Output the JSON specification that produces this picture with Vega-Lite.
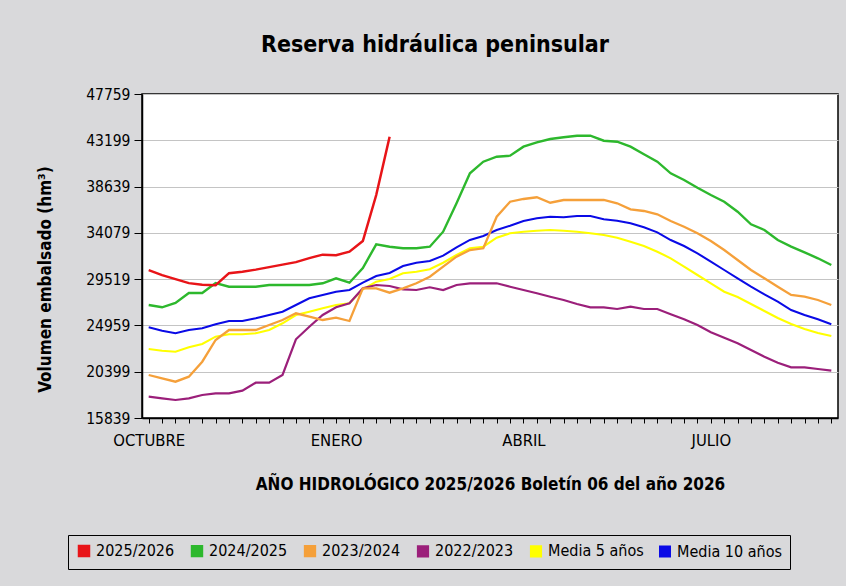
{
 "$schema": "https://vega.github.io/schema/vega-lite/v6.json",
 "width": 696,
 "height": 324,
 "autosize": {"type": "none"},
 "padding": {"left": 142, "top": 94, "right": 8, "bottom": 168},
 "background": "#d9d9db",
 "config": {"font": "DejaVu Sans Condensed", "view": {"fill": "white", "stroke": "black", "strokeWidth": 1.5}},
 "title": {"text": "Reserva hidráulica peninsular", "fontSize": 23, "fontWeight": "bold", "color": "black", "anchor": "middle", "dx": -55, "offset": 30},
 "data": {"values": [
{"s":"Media 10 años","w":0,"v":24775},{"s":"Media 10 años","w":1,"v":24440},{"s":"Media 10 años","w":2,"v":24184},{"s":"Media 10 años","w":3,"v":24509},{"s":"Media 10 años","w":4,"v":24676},{"s":"Media 10 años","w":5,"v":25070},{"s":"Media 10 años","w":6,"v":25395},{"s":"Media 10 años","w":7,"v":25395},{"s":"Media 10 años","w":8,"v":25661},{"s":"Media 10 años","w":9,"v":25987},
{"s":"Media 10 años","w":10,"v":26312},{"s":"Media 10 años","w":11,"v":26972},{"s":"Media 10 años","w":12,"v":27632},{"s":"Media 10 años","w":13,"v":27957},{"s":"Media 10 años","w":14,"v":28282},{"s":"Media 10 años","w":15,"v":28450},{"s":"Media 10 años","w":16,"v":29169},{"s":"Media 10 años","w":17,"v":29829},{"s":"Media 10 años","w":18,"v":30124},{"s":"Media 10 años","w":19,"v":30814},
{"s":"Media 10 años","w":20,"v":31139},{"s":"Media 10 años","w":21,"v":31307},{"s":"Media 10 años","w":22,"v":31829},{"s":"Media 10 años","w":23,"v":32656},{"s":"Media 10 años","w":24,"v":33376},{"s":"Media 10 años","w":25,"v":33770},{"s":"Media 10 años","w":26,"v":34361},{"s":"Media 10 años","w":27,"v":34784},{"s":"Media 10 años","w":28,"v":35247},{"s":"Media 10 años","w":29,"v":35513},
{"s":"Media 10 años","w":30,"v":35671},{"s":"Media 10 años","w":31,"v":35612},{"s":"Media 10 años","w":32,"v":35740},{"s":"Media 10 años","w":33,"v":35740},{"s":"Media 10 años","w":34,"v":35415},{"s":"Media 10 años","w":35,"v":35277},{"s":"Media 10 años","w":36,"v":35021},{"s":"Media 10 años","w":37,"v":34627},{"s":"Media 10 años","w":38,"v":34134},{"s":"Media 10 años","w":39,"v":33376},
{"s":"Media 10 años","w":40,"v":32784},{"s":"Media 10 años","w":41,"v":32065},{"s":"Media 10 años","w":42,"v":31238},{"s":"Media 10 años","w":43,"v":30420},{"s":"Media 10 años","w":44,"v":29602},{"s":"Media 10 años","w":45,"v":28775},{"s":"Media 10 años","w":46,"v":28026},{"s":"Media 10 años","w":47,"v":27297},{"s":"Media 10 años","w":48,"v":26479},{"s":"Media 10 años","w":49,"v":25987},
{"s":"Media 10 años","w":50,"v":25563},{"s":"Media 10 años","w":51,"v":25070},
{"s":"Media 5 años","w":0,"v":22637},{"s":"Media 5 años","w":1,"v":22469},{"s":"Media 5 años","w":2,"v":22371},{"s":"Media 5 años","w":3,"v":22804},{"s":"Media 5 años","w":4,"v":23129},{"s":"Media 5 años","w":5,"v":23849},{"s":"Media 5 años","w":6,"v":24085},{"s":"Media 5 años","w":7,"v":24085},{"s":"Media 5 años","w":8,"v":24184},{"s":"Media 5 años","w":9,"v":24509},
{"s":"Media 5 años","w":10,"v":25169},{"s":"Media 5 años","w":11,"v":25987},{"s":"Media 5 años","w":12,"v":26312},{"s":"Media 5 años","w":13,"v":26647},{"s":"Media 5 años","w":14,"v":26972},{"s":"Media 5 años","w":15,"v":27139},{"s":"Media 5 años","w":16,"v":28519},{"s":"Media 5 años","w":17,"v":29267},{"s":"Media 5 años","w":18,"v":29533},{"s":"Media 5 años","w":19,"v":30095},
{"s":"Media 5 años","w":20,"v":30252},{"s":"Media 5 años","w":21,"v":30489},{"s":"Media 5 años","w":22,"v":31139},{"s":"Media 5 años","w":23,"v":31898},{"s":"Media 5 años","w":24,"v":32558},{"s":"Media 5 años","w":25,"v":32716},{"s":"Media 5 años","w":26,"v":33602},{"s":"Media 5 años","w":27,"v":34036},{"s":"Media 5 años","w":28,"v":34193},{"s":"Media 5 años","w":29,"v":34292},
{"s":"Media 5 años","w":30,"v":34361},{"s":"Media 5 años","w":31,"v":34292},{"s":"Media 5 años","w":32,"v":34193},{"s":"Media 5 años","w":33,"v":34036},{"s":"Media 5 años","w":34,"v":33868},{"s":"Media 5 años","w":35,"v":33602},{"s":"Media 5 años","w":36,"v":33208},{"s":"Media 5 años","w":37,"v":32784},{"s":"Media 5 años","w":38,"v":32223},{"s":"Media 5 años","w":39,"v":31573},
{"s":"Media 5 años","w":40,"v":30745},{"s":"Media 5 años","w":41,"v":29927},{"s":"Media 5 años","w":42,"v":29110},{"s":"Media 5 años","w":43,"v":28282},{"s":"Media 5 años","w":44,"v":27760},{"s":"Media 5 años","w":45,"v":27070},{"s":"Media 5 años","w":46,"v":26381},{"s":"Media 5 años","w":47,"v":25691},{"s":"Media 5 años","w":48,"v":25100},{"s":"Media 5 años","w":49,"v":24607},
{"s":"Media 5 años","w":50,"v":24213},{"s":"Media 5 años","w":51,"v":23918},
{"s":"2022/2023","w":0,"v":17937},{"s":"2022/2023","w":1,"v":17780},{"s":"2022/2023","w":2,"v":17612},{"s":"2022/2023","w":3,"v":17780},{"s":"2022/2023","w":4,"v":18105},{"s":"2022/2023","w":5,"v":18272},{"s":"2022/2023","w":6,"v":18272},{"s":"2022/2023","w":7,"v":18529},{"s":"2022/2023","w":8,"v":19317},{"s":"2022/2023","w":9,"v":19317},
{"s":"2022/2023","w":10,"v":20075},{"s":"2022/2023","w":11,"v":23593},{"s":"2022/2023","w":12,"v":24834},{"s":"2022/2023","w":13,"v":25987},{"s":"2022/2023","w":14,"v":26745},{"s":"2022/2023","w":15,"v":27139},{"s":"2022/2023","w":16,"v":28617},{"s":"2022/2023","w":17,"v":28942},{"s":"2022/2023","w":18,"v":28844},{"s":"2022/2023","w":19,"v":28519},
{"s":"2022/2023","w":20,"v":28450},{"s":"2022/2023","w":21,"v":28716},{"s":"2022/2023","w":22,"v":28450},{"s":"2022/2023","w":23,"v":28942},{"s":"2022/2023","w":24,"v":29110},{"s":"2022/2023","w":25,"v":29110},{"s":"2022/2023","w":26,"v":29110},{"s":"2022/2023","w":27,"v":28775},{"s":"2022/2023","w":28,"v":28450},{"s":"2022/2023","w":29,"v":28124},
{"s":"2022/2023","w":30,"v":27789},{"s":"2022/2023","w":31,"v":27464},{"s":"2022/2023","w":32,"v":27070},{"s":"2022/2023","w":33,"v":26745},{"s":"2022/2023","w":34,"v":26745},{"s":"2022/2023","w":35,"v":26578},{"s":"2022/2023","w":36,"v":26804},{"s":"2022/2023","w":37,"v":26578},{"s":"2022/2023","w":38,"v":26578},{"s":"2022/2023","w":39,"v":26056},
{"s":"2022/2023","w":40,"v":25563},{"s":"2022/2023","w":41,"v":25001},{"s":"2022/2023","w":42,"v":24282},{"s":"2022/2023","w":43,"v":23750},{"s":"2022/2023","w":44,"v":23198},{"s":"2022/2023","w":45,"v":22538},{"s":"2022/2023","w":46,"v":21878},{"s":"2022/2023","w":47,"v":21287},{"s":"2022/2023","w":48,"v":20834},{"s":"2022/2023","w":49,"v":20834},
{"s":"2022/2023","w":50,"v":20666},{"s":"2022/2023","w":51,"v":20499},
{"s":"2023/2024","w":0,"v":20075},{"s":"2023/2024","w":1,"v":19750},{"s":"2023/2024","w":2,"v":19415},{"s":"2023/2024","w":3,"v":19908},{"s":"2023/2024","w":4,"v":21386},{"s":"2023/2024","w":5,"v":23524},{"s":"2023/2024","w":6,"v":24509},{"s":"2023/2024","w":7,"v":24509},{"s":"2023/2024","w":8,"v":24509},{"s":"2023/2024","w":9,"v":25001},
{"s":"2023/2024","w":10,"v":25494},{"s":"2023/2024","w":11,"v":26154},{"s":"2023/2024","w":12,"v":25819},{"s":"2023/2024","w":13,"v":25494},{"s":"2023/2024","w":14,"v":25721},{"s":"2023/2024","w":15,"v":25395},{"s":"2023/2024","w":16,"v":28617},{"s":"2023/2024","w":17,"v":28617},{"s":"2023/2024","w":18,"v":28184},{"s":"2023/2024","w":19,"v":28617},
{"s":"2023/2024","w":20,"v":29110},{"s":"2023/2024","w":21,"v":29760},{"s":"2023/2024","w":22,"v":30745},{"s":"2023/2024","w":23,"v":31730},{"s":"2023/2024","w":24,"v":32390},{"s":"2023/2024","w":25,"v":32558},{"s":"2023/2024","w":26,"v":35671},{"s":"2023/2024","w":27,"v":37149},{"s":"2023/2024","w":28,"v":37415},{"s":"2023/2024","w":29,"v":37582},
{"s":"2023/2024","w":30,"v":37050},{"s":"2023/2024","w":31,"v":37316},{"s":"2023/2024","w":32,"v":37316},{"s":"2023/2024","w":33,"v":37316},{"s":"2023/2024","w":34,"v":37316},{"s":"2023/2024","w":35,"v":36991},{"s":"2023/2024","w":36,"v":36400},{"s":"2023/2024","w":37,"v":36233},{"s":"2023/2024","w":38,"v":35907},{"s":"2023/2024","w":39,"v":35247},
{"s":"2023/2024","w":40,"v":34686},{"s":"2023/2024","w":41,"v":34036},{"s":"2023/2024","w":42,"v":33277},{"s":"2023/2024","w":43,"v":32390},{"s":"2023/2024","w":44,"v":31405},{"s":"2023/2024","w":45,"v":30420},{"s":"2023/2024","w":46,"v":29602},{"s":"2023/2024","w":47,"v":28775},{"s":"2023/2024","w":48,"v":27957},{"s":"2023/2024","w":49,"v":27789},
{"s":"2023/2024","w":50,"v":27464},{"s":"2023/2024","w":51,"v":26972},
{"s":"2024/2025","w":0,"v":26972},{"s":"2024/2025","w":1,"v":26745},{"s":"2024/2025","w":2,"v":27169},{"s":"2024/2025","w":3,"v":28154},{"s":"2024/2025","w":4,"v":28154},{"s":"2024/2025","w":5,"v":29139},{"s":"2024/2025","w":6,"v":28775},{"s":"2024/2025","w":7,"v":28775},{"s":"2024/2025","w":8,"v":28775},{"s":"2024/2025","w":9,"v":28942},
{"s":"2024/2025","w":10,"v":28942},{"s":"2024/2025","w":11,"v":28942},{"s":"2024/2025","w":12,"v":28942},{"s":"2024/2025","w":13,"v":29110},{"s":"2024/2025","w":14,"v":29602},{"s":"2024/2025","w":15,"v":29169},{"s":"2024/2025","w":16,"v":30617},{"s":"2024/2025","w":17,"v":32952},{"s":"2024/2025","w":18,"v":32716},{"s":"2024/2025","w":19,"v":32558},
{"s":"2024/2025","w":20,"v":32558},{"s":"2024/2025","w":21,"v":32716},{"s":"2024/2025","w":22,"v":34193},{"s":"2024/2025","w":23,"v":36991},{"s":"2024/2025","w":24,"v":39947},{"s":"2024/2025","w":25,"v":41090},{"s":"2024/2025","w":26,"v":41582},{"s":"2024/2025","w":27,"v":41681},{"s":"2024/2025","w":28,"v":42567},{"s":"2024/2025","w":29,"v":43001},
{"s":"2024/2025","w":30,"v":43326},{"s":"2024/2025","w":31,"v":43493},{"s":"2024/2025","w":32,"v":43651},{"s":"2024/2025","w":33,"v":43651},{"s":"2024/2025","w":34,"v":43159},{"s":"2024/2025","w":35,"v":43060},{"s":"2024/2025","w":36,"v":42567},{"s":"2024/2025","w":37,"v":41819},{"s":"2024/2025","w":38,"v":41090},{"s":"2024/2025","w":39,"v":39947},
{"s":"2024/2025","w":40,"v":39287},{"s":"2024/2025","w":41,"v":38528},{"s":"2024/2025","w":42,"v":37809},{"s":"2024/2025","w":43,"v":37149},{"s":"2024/2025","w":44,"v":36164},{"s":"2024/2025","w":45,"v":34922},{"s":"2024/2025","w":46,"v":34361},{"s":"2024/2025","w":47,"v":33376},{"s":"2024/2025","w":48,"v":32716},{"s":"2024/2025","w":49,"v":32164},
{"s":"2024/2025","w":50,"v":31573},{"s":"2024/2025","w":51,"v":30913},
{"s":"2025/2026","w":0,"v":30405},{"s":"2025/2026","w":1,"v":29913},{"s":"2025/2026","w":2,"v":29519},{"s":"2025/2026","w":3,"v":29125},{"s":"2025/2026","w":4,"v":28977},{"s":"2025/2026","w":5,"v":28928},{"s":"2025/2026","w":6,"v":30110},{"s":"2025/2026","w":7,"v":30258},{"s":"2025/2026","w":8,"v":30455},{"s":"2025/2026","w":9,"v":30701},
{"s":"2025/2026","w":10,"v":30948},{"s":"2025/2026","w":11,"v":31194},{"s":"2025/2026","w":12,"v":31588},{"s":"2025/2026","w":13,"v":31933},{"s":"2025/2026","w":14,"v":31884},{"s":"2025/2026","w":15,"v":32228},{"s":"2025/2026","w":16,"v":33273},{"s":"2025/2026","w":17,"v":37805},{"s":"2025/2026","w":18,"v":43550}
 ]},
 "mark": {"type": "line"},
 "encoding": {
  "x": {"field": "w", "type": "quantitative",
   "scale": {"domain": [-0.5, 51.5], "nice": false, "zero": false},
   "axis": {"values": [0,1,2,3,4,5,6,7,8,9,10,11,12,13,14,15,16,17,18,19,20,21,22,23,24,25,26,27,28,29,30,31,32,33,34,35,36,37,38,39,40,41,42,43,44,45,46,47,48,49,50,51],
    "labelExpr": "datum.value == 0 ? 'OCTUBRE' : datum.value == 14 ? 'ENERO' : datum.value == 28 ? 'ABRIL' : datum.value == 42 ? 'JULIO' : ''",
    "labelOverlap": false, "labelBound": false, "labelFlush": false,
    "grid": false, "domainColor": "black", "domainWidth": 1.5, "tickColor": "black", "tickSize": 5,
    "labelFontSize": 16.5, "labelColor": "black", "labelPadding": 9,
    "title": "AÑO HIDROLÓGICO 2025/2026 Boletín 06 del año 2026",
    "titleFontSize": 17, "titleFontWeight": "bold", "titleColor": "black", "titleY": 66, "titleBaseline": "middle"}},
  "y": {"field": "v", "type": "quantitative",
   "scale": {"domain": [15839, 47759], "nice": false, "zero": false},
   "axis": {"values": [15839, 20399, 24959, 29519, 34079, 38639, 43199, 47759], "format": "d",
    "grid": true, "gridColor": "#c4c4c4", "gridWidth": 1.2,
    "domainColor": "black", "domainWidth": 1.5, "tickColor": "black", "tickSize": 8,
    "labelFontSize": 15.5, "labelColor": "black", "labelPadding": 4,
    "title": "Volumen embalsado (hm³)", "titleFontSize": 17, "titleFontWeight": "bold", "titleColor": "black",
    "titleX": -88, "titleY": 185}},
  "color": {"field": "s", "type": "nominal",
   "scale": {"domain": ["2025/2026", "2024/2025", "2023/2024", "2022/2023", "Media 5 años", "Media 10 años"],
             "range": ["#e81418", "#2db82d", "#f5a03a", "#9b1f7a", "#ffff00", "#0a0ae6"]},
   "legend": {"orient": "none", "legendX": -74, "legendY": 441, "direction": "horizontal", "title": null,
    "strokeColor": "black", "padding": 8, "fillColor": "#d9d9db",
    "symbolType": "square", "symbolSize": 100, "symbolStrokeColor": "black", "symbolStrokeWidth": 1,
    "labelFontSize": 16, "labelColor": "black", "columnPadding": 12, "labelOffset": 4,
    "encode": {"symbols": {"update": {"fill": {"scale": "color", "field": "value"}, "stroke": {"value": "black"}, "strokeWidth": {"value": 1}, "opacity": {"value": 1}}}}}},
  "strokeWidth": {"field": "s", "type": "nominal",
   "scale": {"domain": ["2025/2026", "2024/2025", "2023/2024", "2022/2023", "Media 5 años", "Media 10 años"], "range": [2.5, 2, 2, 2, 3.5, 3.5]},
   "legend": null}
 }
}
